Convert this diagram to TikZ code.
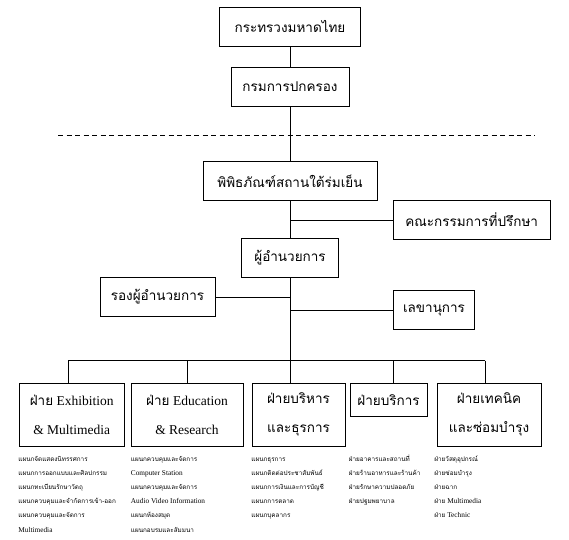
\documentclass[tikz,border=0pt]{standalone}
\usepackage{fontspec}
\setmainfont{Liberation Serif}
\newfontfamily\thai[Script=Thai]{Loma}
\newfontfamily\thaism[Script=Thai,Scale=0.87]{Loma}
\begin{document}
\begin{tikzpicture}[x=1pt, y=-1pt, line width=0.9pt,
	box/.style = {draw, inner sep=0pt, align=center, font=\fontsize{13.5}{29}\selectfont},
	item/.style = {anchor=base west, inner sep=0pt, font=\fontsize{7.3}{14}\selectfont}]
	\useasboundingbox (0,0) rectangle (569,539);
	% top of the chart
	\node[box, minimum width=141pt, minimum height=38.7pt] (mot) at (290,26.7) {\thai กระทรวงมหาดไทย};
	\node[box, minimum width=118pt, minimum height=39.4pt] (dopa) at (290,87) {\thai กรมการปกครอง};
	\coordinate (dashL) at (58,135);
	\coordinate (dashR) at (535,135);
	\draw[dash pattern=on 5pt off 3.5pt] (dashL) -- (dashR);
	\node[box, minimum width=174pt, minimum height=39pt] (museum) at (290,181.2) {\thai พิพิธภัณฑ์สถานใต้ร่มเย็น};
	\node[box, minimum width=156.5pt, minimum height=38.6pt] (advisory) at (471.7,220) {\thai คณะกรรมการที่ปรึกษา};
	\node[box, minimum width=97.5pt, minimum height=38.6pt] (director) at (290,258) {\thai ผู้อำนวยการ};
	\node[box, minimum width=115pt, minimum height=39.4pt] (deputy) at (157.5,297) {\thai รองผู้อำนวยการ};
	\node[box, minimum width=81pt, minimum height=38.6pt] (secretary) at (434,310) {\thai เลขานุการ};
	\draw (mot) -- (dopa);
	\draw (dopa) -- (museum);
	\draw (museum) -- (director);
	\draw (advisory.west) -- (advisory.west -| museum.south);
	\draw (deputy.east) -- (deputy.east -| director.south);
	\draw (secretary.west) -- (secretary.west -| director.south);
	% departments
	\coordinate (d1) at (68.4,360.7);
	\coordinate (d2) at (187.5,360.7);
	\coordinate (d3) at (290,360.7);
	\coordinate (d4) at (393,360.7);
	\coordinate (d5) at (485,360.7);
	\node[box, minimum width=105.5pt, minimum height=62.7pt] (exh) at (71.7,414.7) {{\thai ฝ่าย} Exhibition\\ \& Multimedia};
	\node[box, minimum width=112pt, minimum height=62.7pt] (edu) at (187,414.7) {{\thai ฝ่าย} Education\\ \& Research};
	\node[box, minimum width=93pt, minimum height=62.7pt] (adm) at (298.5,414.7) {\thai ฝ่ายบริหาร\\ \thai และธุรการ};
	\node[box, minimum width=77pt, minimum height=32.7pt] (srv) at (388.5,399.7) {\thai ฝ่ายบริการ};
	\node[box, minimum width=104pt, minimum height=62.7pt] (tech) at (489,414.7) {\thai ฝ่ายเทคนิค\\ \thai และซ่อมบำรุง};
	\draw (director) -- (d3);
	\draw (d1) -- (d5);
	\draw (d1) -- (d1 |- exh.north);
	\draw (d2) -- (d2 |- edu.north);
	\draw (d3) -- (d3 |- adm.north);
	\draw (d4) -- (d4 |- srv.north);
	\draw (d5) -- (d5 |- tech.north);
	% sections under each department
	\foreach \t [count=\i] in {{\thaism แผนกจัดแสดงนิทรรศการ}, {\thaism แผนกการออกแบบและศิลปกรรม}, {\thaism แผนกทะเบียนรักษาวัตถุ}, {\thaism แผนกควบคุมและจำกัดการเข้า-ออก}, {\thaism แผนกควบคุมและจัดการ}, Multimedia}
		\node[item] (exh-\i) at (18,447.4+14.1*\i) {\t};
	\foreach \t [count=\i] in {{\thaism แผนกควบคุมและจัดการ}, Computer Station, {\thaism แผนกควบคุมและจัดการ}, Audio Video Information, {\thaism แผนกห้องสมุด}, {\thaism แผนกอบรมและสัมมนา}}
		\node[item] (edu-\i) at (130.5,447.4+14.1*\i) {\t};
	\foreach \t [count=\i] in {{\thaism แผนกธุรการ}, {\thaism แผนกติดต่อประชาสัมพันธ์}, {\thaism แผนกการเงินและการบัญชี}, {\thaism แผนกการตลาด}, {\thaism แผนกบุคลากร}}
		\node[item] (adm-\i) at (251,447.4+14.1*\i) {\t};
	\foreach \t [count=\i] in {{\thaism ฝ่ายอาคารและสถานที่}, {\thaism ฝ่ายร้านอาหารและร้านค้า}, {\thaism ฝ่ายรักษาความปลอดภัย}, {\thaism ฝ่ายปฐมพยาบาล}}
		\node[item] (srv-\i) at (348.5,447.4+14.1*\i) {\t};
	\foreach \t [count=\i] in {{\thaism ฝ่ายวัสดุอุปกรณ์}, {\thaism ฝ่ายซ่อมบำรุง}, {\thaism ฝ่ายฉาก}, {{\thaism ฝ่าย} Multimedia}, {{\thaism ฝ่าย} Technic}}
		\node[item] (tech-\i) at (434,447.4+14.1*\i) {\t};
\end{tikzpicture}
\end{document}
